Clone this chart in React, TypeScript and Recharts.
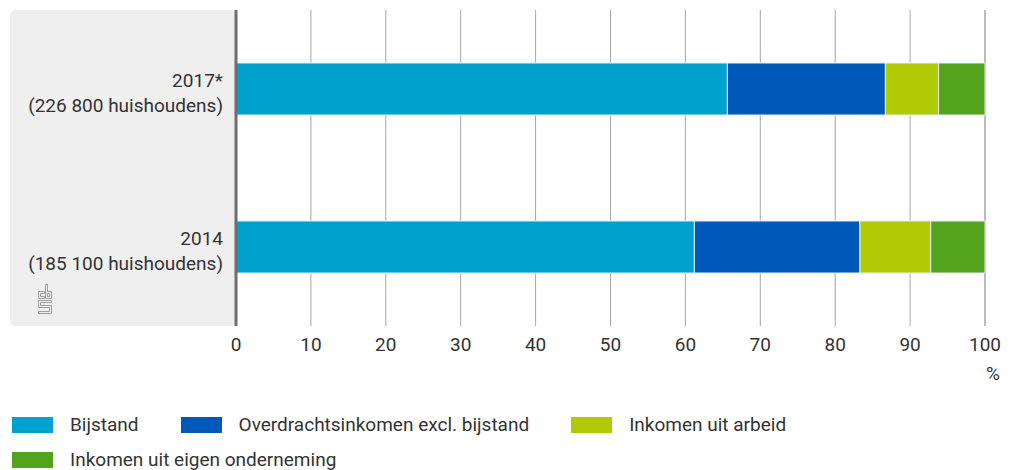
import React from "react";
import { Bar, BarChart, CartesianGrid, XAxis, YAxis } from "recharts";

// aandeel per inkomensbron, in %
const categories = ["2017*", "2014"];
const households = ["(226 800 huishoudens)", "(185 100 huishoudens)"];
const bijstand = [65.6, 61.2];
const overdracht = [21.1, 22.1];
const arbeid = [7.1, 9.45];
const eigen = [6.2, 7.25];
const xTicks = [0, 10, 20, 30, 40, 50, 60, 70, 80, 90, 100];

const series = [
  { key: "bijstand", name: "Bijstand", color: "#00a1cd" },
  { key: "overdracht", name: "Overdrachtsinkomen excl. bijstand", color: "#0058b8" },
  { key: "arbeid", name: "Inkomen uit arbeid", color: "#afcb05" },
  { key: "eigen", name: "Inkomen uit eigen onderneming", color: "#53a31d" },
];

const data = categories.map((c, i) => ({
  cat: c,
  bijstand: bijstand[i],
  overdracht: overdracht[i],
  arbeid: arbeid[i],
  eigen: eigen[i],
}));

const FONT = "Roboto, 'Noto Sans', sans-serif";
const TEXT = "#333";
const FS = 19;

function CatTick({ x, y, payload, index }: any) {
  const tx = x - 5;
  return (
    <text x={tx} y={y} textAnchor="end" fill={TEXT} fontSize={FS} fontFamily={FONT}>
      <tspan x={tx} dy={-2}>{payload.value}</tspan>
      <tspan x={tx} dy={25}>{households[index]}</tspan>
    </text>
  );
}

function PercentLabel({ viewBox }: any) {
  return (
    <text x={viewBox.x + viewBox.width + 8} y={viewBox.y + 54} textAnchor="middle" fill={TEXT} fontSize={FS} fontFamily={FONT}>
      %
    </text>
  );
}

function CbsLogo() {
  return (
    <svg style={{ position: "absolute", left: 37, top: 284 }} width={16} height={32} viewBox="0 0 16 32">
      <g fill="none" stroke="#9d9d9d" strokeWidth={1}>
        <path d="M1.5 7.5 H7.5 V9.5 H3.5 V12.5 H7.5 V14.5 H1.5 Z" />
        <path d="M8.5 0.5 H10.5 V7.5 H14.5 V14.5 H8.5 Z M10.5 9.5 H12.5 V12.5 H10.5 Z" />
        <path d="M1.5 16.5 H14.5 V18.5 H3.5 V21.5 H14.5 V29.5 H1.5 V27.5 H12.5 V23.5 H1.5 Z" />
      </g>
    </svg>
  );
}

function LegendRow({ items }: { items: typeof series }) {
  return (
    <div style={{ display: "flex", columnGap: 42, height: 25, marginBottom: 10 }}>
      {items.map((s) => (
        <div key={s.key} style={{ display: "flex", alignItems: "center" }}>
          <span style={{ display: "inline-block", width: 41, height: 16, background: s.color, marginRight: 17 }} />
          <span style={{ fontSize: FS, color: TEXT, whiteSpace: "nowrap" }}>{s.name}</span>
        </div>
      ))}
    </div>
  );
}

export default function App() {
  return (
    <div style={{ position: "absolute", left: 0, top: 0, width: 1011, height: 470, background: "#fff", fontFamily: FONT, overflow: "hidden" }}>
      <div style={{ position: "absolute", left: 10, top: 10, width: 226, height: 316, background: "#efefef", borderRadius: "5px 0 0 5px" }} />
      <CbsLogo />
      <div style={{ position: "absolute", left: 0, top: 0 }}>
        <BarChart
          width={1011}
          height={470}
          data={data}
          layout="vertical"
          margin={{ top: 10, right: 26, bottom: 114, left: 10 }}
          barSize={52}
        >
          <CartesianGrid horizontal={false} stroke="#a6a6a6" strokeWidth={1} />
          <XAxis
            type="number"
            domain={[0, 100]}
            ticks={xTicks}
            height={30}
            axisLine={false}
            tickLine={false}
            tickMargin={6}
            tick={{ fill: TEXT, fontSize: FS, fontFamily: FONT }}
            label={<PercentLabel />}
          />
          <YAxis
            type="category"
            dataKey="cat"
            width={226}
            tick={<CatTick />}
            tickLine={false}
            axisLine={{ stroke: "#6e6e6e", strokeWidth: 3 }}
          />
          {series.map((s) => (
            <Bar
              key={s.key}
              dataKey={s.key}
              name={s.name}
              stackId="a"
              fill={s.color}
              stroke="#e6edf4"
              strokeWidth={1}
              isAnimationActive={false}
            />
          ))}
        </BarChart>
      </div>
      <div style={{ position: "absolute", left: 12, top: 412 }}>
        <LegendRow items={series.slice(0, 3)} />
        <LegendRow items={series.slice(3)} />
      </div>
    </div>
  );
}
